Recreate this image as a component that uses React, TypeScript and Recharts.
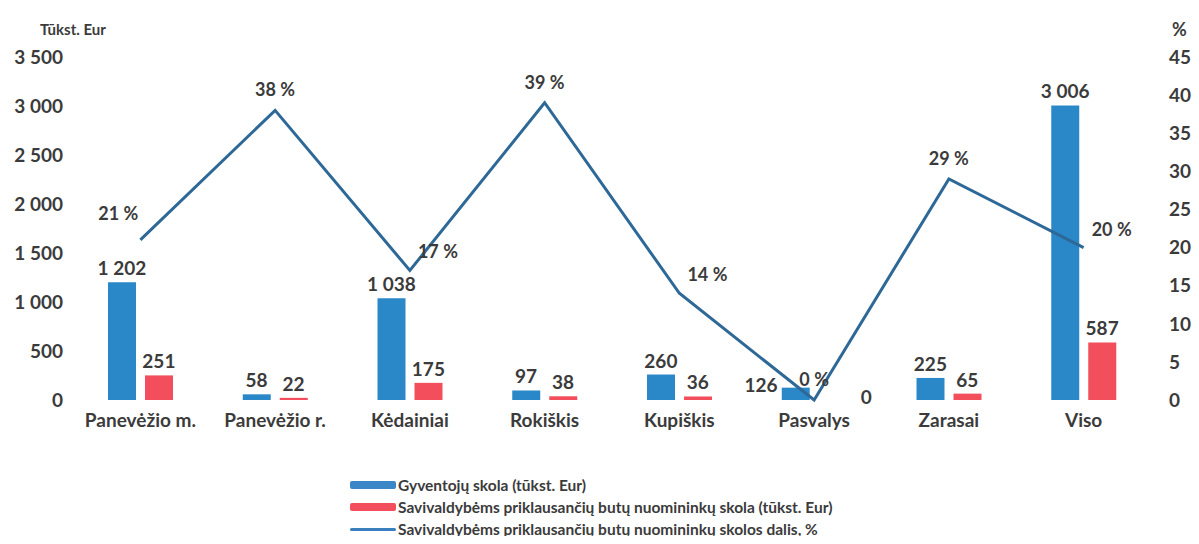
import {
  ComposedChart,
  Bar,
  Line,
  XAxis,
  YAxis,
  LabelList,
} from 'recharts';

const categories = ['Panevėžio m.', 'Panevėžio r.', 'Kėdainiai', 'Rokiškis', 'Kupiškis', 'Pasvalys', 'Zarasai', 'Viso'];
const residentDebt = [1202, 58, 1038, 97, 260, 126, 225, 3006];
const tenantDebt = [251, 22, 175, 38, 36, 0, 65, 587];
const tenantShare = [21, 38, 17, 39, 14, 0, 29, 20];
const leftTicks = [0, 500, 1000, 1500, 2000, 2500, 3000, 3500];
const rightTicks = [0, 5, 10, 15, 20, 25, 30, 35, 40, 45];

const BLUE = '#2b88c8';
const RED = '#f24e5c';
const LINE = '#2d6896';
const TEXT = '#3b3b3b';
const FONT = 'Lato, "Open Sans", sans-serif';
const FS = 19;
const BAR = 28;
const GAP = 9;

const data = categories.map((name, i) => ({
  name,
  resident: residentDebt[i],
  tenant: tenantDebt[i],
  share: tenantShare[i],
}));

function fmt(v: number): string {
  return String(v).replace(/\B(?=(\d{3})+(?!\d))/g, '\u00a0');
}

// label placement tweaks (Pasvalys has its values beside the bars)
const sharePlacement = ['left', 'top', 'right', 'top', 'right', 'top', 'top', 'right'];
const residentPlacement = ['top', 'top', 'top', 'top', 'top', 'left', 'top', 'top'];
const tenantPlacement = ['top', 'top', 'top', 'top', 'top', 'right', 'top', 'top'];

function ShareLabel(props: any) {
  const { x, y, value, index } = props;
  const place = sharePlacement[index] || 'top';
  let tx = x;
  let ty = y - 14;
  let anchor: 'start' | 'middle' | 'end' = 'middle';
  if (place === 'left') {
    tx = x - 2;
    ty = y - 20;
    anchor = 'end';
  } else if (place === 'right') {
    tx = x + 8;
    ty = y - 12;
    anchor = 'start';
  }
  return (
    <text x={tx} y={ty} textAnchor={anchor} fill={TEXT} fontSize={FS - 1} fontWeight={700} fontFamily={FONT}>
      {value} %
    </text>
  );
}

// bar value labels hang off invisible lines so that zero values still get one
function makeBarLabel(placement: string[], shift: number) {
  return function BarLabel(props: any) {
    const { x, y, value, index } = props;
    const place = placement[index] || 'top';
    const cx = x + shift;
    let tx = cx;
    let ty = y - 7;
    let anchor: 'start' | 'middle' | 'end' = 'middle';
    if (place === 'left') {
      tx = cx - BAR / 2 - 4;
      ty = y + 4;
      anchor = 'end';
    } else if (place === 'right') {
      tx = cx + BAR / 2 + 14;
      ty = y + 4;
      anchor = 'start';
    }
    return (
      <text x={tx} y={ty} textAnchor={anchor} fill={TEXT} fontSize={FS} fontWeight={700} fontFamily={FONT}>
        {fmt(Number(value))}
      </text>
    );
  };
}

const ResidentLabel = makeBarLabel(residentPlacement, -(BAR + GAP) / 2);
const TenantLabel = makeBarLabel(tenantPlacement, (BAR + GAP) / 2);

const legendItems = [
  { label: 'Gyventojų skola (tūkst. Eur)', color: '#3b86c6', h: 8 },
  { label: 'Savivaldybėms priklausančių butų nuomininkų skola (tūkst. Eur)', color: RED, h: 8 },
  { label: 'Savivaldybėms priklausančių butų nuomininkų skolos dalis, %', color: '#3a7fc0', h: 3 },
];

const tickStyle = { fill: TEXT, fontSize: FS, fontWeight: 700, fontFamily: FONT };

export default function App() {
  return (
    <div style={{ position: 'relative', width: 1183, height: 528, fontFamily: FONT, background: '#fff' }}>
      <div style={{ position: 'absolute', left: 32, top: 12, fontSize: 15, fontWeight: 700, color: TEXT }}>
        Tūkst. Eur
      </div>
      <div style={{ position: 'absolute', left: 1164, top: 10, fontSize: 18, fontWeight: 700, color: TEXT }}>
        %
      </div>
      <ComposedChart
        width={1183}
        height={455}
        data={data}
        margin={{ top: 49, right: 0, bottom: 23, left: 0 }}
        barGap={GAP}
        barCategoryGap="25%"
      >
        <XAxis
          dataKey="name"
          axisLine={false}
          tickLine={false}
          tickSize={0}
          tickMargin={14}
          height={40}
          interval={0}
          tick={tickStyle}
        />
        <YAxis
          yAxisId="left"
          domain={[0, 3500]}
          ticks={leftTicks}
          tickFormatter={fmt}
          axisLine={false}
          tickLine={false}
          tickSize={0}
          tickMargin={10}
          width={65}
          tick={tickStyle}
        />
        <YAxis
          yAxisId="right"
          orientation="right"
          domain={[0, 45]}
          ticks={rightTicks}
          axisLine={false}
          tickLine={false}
          tickSize={0}
          tickMargin={18}
          width={40}
          tick={{ ...tickStyle, textAnchor: 'start' }}
        />
        <Bar yAxisId="left" dataKey="resident" fill={BLUE} barSize={BAR} isAnimationActive={false} />
        <Bar yAxisId="left" dataKey="tenant" fill={RED} barSize={BAR} isAnimationActive={false} />
        <Line
          yAxisId="left"
          dataKey="resident"
          stroke="none"
          dot={false}
          activeDot={false}
          legendType="none"
          isAnimationActive={false}
        >
          <LabelList dataKey="resident" content={<ResidentLabel />} />
        </Line>
        <Line
          yAxisId="left"
          dataKey="tenant"
          stroke="none"
          dot={false}
          activeDot={false}
          legendType="none"
          isAnimationActive={false}
        >
          <LabelList dataKey="tenant" content={<TenantLabel />} />
        </Line>
        <Line
          yAxisId="right"
          type="linear"
          dataKey="share"
          stroke={LINE}
          strokeWidth={3}
          dot={false}
          activeDot={false}
          isAnimationActive={false}
        >
          <LabelList dataKey="share" content={<ShareLabel />} />
        </Line>
      </ComposedChart>
      <div style={{ position: 'absolute', left: 342, top: 466, color: TEXT, fontWeight: 700, fontSize: 15.5 }}>
        {legendItems.map((it) => (
          <div key={it.label} style={{ display: 'flex', alignItems: 'center', height: 22 }}>
            <span
              style={{
                display: 'inline-block',
                width: 46,
                height: it.h,
                background: it.color,
                marginRight: 2,
                borderRadius: 2,
              }}
            />
            <span>{it.label}</span>
          </div>
        ))}
      </div>
    </div>
  );
}
